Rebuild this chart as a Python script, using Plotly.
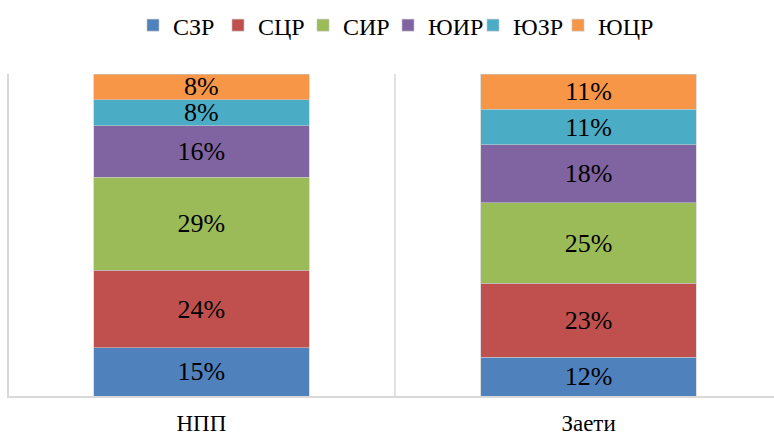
import plotly.graph_objects as go

categories = ["НПП", "Заети"]
series_names = ["СЗР", "СЦР", "СИР", "ЮИР", "ЮЗР", "ЮЦР"]
values_szr = [15, 12]
values_scr = [24, 23]
values_sir = [29, 25]
values_yuir = [16, 18]
values_yuzr = [8, 11]
values_yucr = [8, 11]
colors = ["#4F81BD", "#C0504D", "#9BBB59", "#8064A2", "#4BACC6", "#F79646"]

series_values = [values_szr, values_scr, values_sir, values_yuir, values_yuzr, values_yucr]

fig = go.Figure()
for name, vals, col in zip(series_names, series_values, colors):
    fig.add_trace(go.Bar(
        name=name, x=[0, 1], y=vals,
        marker=dict(color=col, line=dict(color="#c8c8c8", width=0.6)),
        text=[f"{v}%" for v in vals],
        textposition="inside", insidetextanchor="middle",
        constraintext="none",
        textfont=dict(family="Liberation Serif", size=26, color="black"),
        width=0.556,
        hoverinfo="skip",
    ))

# invisible spacer legend entry so the last real entry is not clipped
fig.add_trace(go.Bar(name=" ", x=[None], y=[None],
                     marker=dict(color="rgba(0,0,0,0)", line=dict(width=0, color="rgba(0,0,0,0)")),
                     hoverinfo="skip", showlegend=True))

fig.add_shape(type="line", xref="x", yref="y", x0=0.5, x1=0.5, y0=0, y1=100,
              line=dict(color="#d9d9d9", width=1.5))

fig.update_layout(
    barmode="stack",
    width=774, height=434,
    margin=dict(l=9, r=0, t=74, b=38, autoexpand=False),
    paper_bgcolor="white", plot_bgcolor="white",
    font=dict(family="Liberation Serif", size=22, color="black"),
    showlegend=True,
    legend=dict(orientation="h", x=133 / 774, xanchor="left", xref="container",
                y=0.993, yanchor="top", yref="container",
                font=dict(family="Liberation Serif", size=24, color="black"),
                traceorder="normal", tracegroupgap=0, entrywidth=40),
)
fig.update_xaxes(range=[-0.497, 1.479], tickvals=[0, 1], ticktext=categories,
                 showline=True, linecolor="#d9d9d9", linewidth=1.5,
                 showgrid=False, zeroline=False, ticks="", automargin=False,
                 tickfont=dict(family="Liberation Serif", size=23, color="black"),
                 ticklabelstandoff=6)
fig.update_yaxes(range=[0, 100], showline=True, linecolor="#d9d9d9", linewidth=1.5,
                 showgrid=False, zeroline=False, showticklabels=False, ticks="",
                 automargin=False)

fig.write_html("out.html", config={"displayModeBar": False},
               post_script="document.body.style.margin='0';document.body.style.overflow='hidden';")
